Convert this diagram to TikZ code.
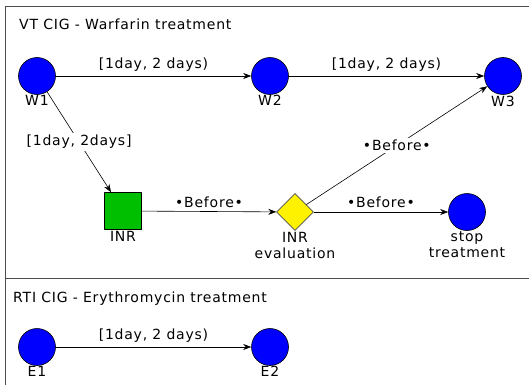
\documentclass[tikz,border=0pt]{standalone}
\usepackage{fontspec}
\setmainfont{DejaVu Sans}[LetterSpace=5.5]
\usetikzlibrary{arrows.meta,shapes.geometric,positioning}
\begin{document}
\begin{tikzpicture}[x=1pt,y=-1pt, font=\fontsize{14}{16}\selectfont,
 event/.style={circle, draw=black, fill=blue, minimum size=37pt, inner sep=0pt, line width=0.6pt},
 task/.style={rectangle, draw=black, fill=green!75!black, minimum size=37pt, inner sep=0pt, line width=0.6pt},
 dec/.style={diamond, draw=black!70, fill=yellow, minimum size=37pt, inner sep=0pt, line width=0.6pt},
 lab/.style={align=center, inner sep=1pt},
 elab/.style={inner sep=2pt},
 arr/.style={-{Stealth[length=8pt,width=6pt]}, line width=0.6pt},
 frameline/.style={draw=black!70, line width=1pt}]
\useasboundingbox (0,0) rectangle (529,385);
% frame
\coordinate (ftl) at (5,7);
\coordinate (ftr) at (529,7);
\coordinate (fbl) at (5,385);
\coordinate (sl) at (5,278);
\coordinate (sr) at (529,278);
\draw[frameline] (ftr) -- (ftl) -- (fbl);
\draw[frameline] (sl) -- (sr);
% titles
\node[anchor=base west, inner sep=0pt] (t1) at (19,30) {VT CIG - Warfarin treatment};
\node[anchor=base west, inner sep=0pt] (t2) at (13,302) {RTI CIG - Erythromycin treatment};
% nodes
\node[event] (W1) at (37,76) {};
\node[event] (W2) at (270,76) {};
\node[event] (W3) at (503,76) {};
\node[task] (INR) at (123,211) {};
\node[dec] (EV) at (295,212) {};
\node[event] (ST) at (467,212) {};
\node[event] (E1) at (37,347) {};
\node[event] (E2) at (270,347) {};
% node labels
\node[lab, below=-1pt of W1] (W1l) {W1};
\node[lab, below=-1pt of W2] (W2l) {W2};
\node[lab, below=0pt of W3] (W3l) {W3};
\node[lab, below=0pt of INR] (INRl) {INR};
\node[lab, below=0pt of EV] (EVl) {INR\\evaluation};
\node[lab, below=0pt of ST] (STl) {stop\\treatment};
\node[lab, below=-1pt of E1] (E1l) {E1};
\node[lab, below=-1pt of E2] (E2l) {E2};
% edges
\draw[arr] (W1) -- node[elab, above=2pt] (l1) {[1day, 2 days)} (W2);
\draw[arr] (W2) -- node[elab, above=2pt] (l2) {[1day, 2 days)} (W3);
\draw[arr] (W1) -- node[elab, fill=white] (l3) {[1day, 2days]} (INR);
\draw[arr] (INR) -- node[elab, above=2pt] (l4) {•Before•} (EV);
\draw[arr] (EV) -- node[elab, above=2pt] (l5) {•Before•} (ST);
\draw[arr] (EV) -- node[elab, fill=white] (l6) {•Before•} (W3);
\draw[arr] (E1) -- node[elab, above=2pt] (l7) {[1day, 2 days)} (E2);
\end{tikzpicture}
\end{document}
